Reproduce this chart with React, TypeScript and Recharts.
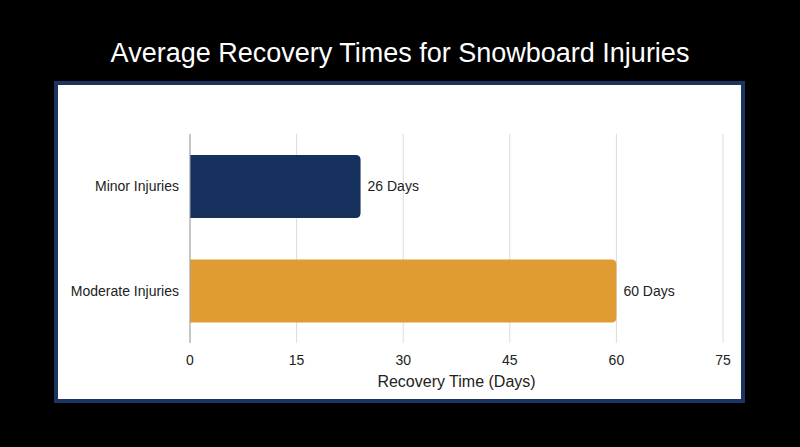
import React from "react";
import { BarChart, Bar, XAxis, YAxis, CartesianGrid, LabelList } from "recharts";

const categories = ["Minor Injuries", "Moderate Injuries"];
const recoveryDays = [24, 60];
const valueLabels = ["26 Days", "60 Days"];
const barColors = ["#15305c", "#e09b33"];
const xTicks = [0, 15, 30, 45, 60, 75];

const data = categories.map((name, i) => ({
  name,
  days: recoveryDays[i],
  label: valueLabels[i],
  color: barColors[i],
}));

const FONT = '"Liberation Sans", Arial, Helvetica, sans-serif';

export default function App() {
  return (
    <div
      style={{
        position: "absolute",
        left: 0,
        top: 0,
        width: 800,
        height: 447,
        background: "#000000",
        fontFamily: FONT,
        overflow: "hidden",
      }}
    >
      <div
        style={{
          position: "absolute",
          left: 0,
          top: 40,
          width: 800,
          textAlign: "center",
          color: "#ffffff",
          fontSize: 27,
          lineHeight: "27px",
          whiteSpace: "nowrap",
        }}
      >
        Average Recovery Times for Snowboard Injuries
      </div>
      <div
        style={{
          position: "absolute",
          left: 54,
          top: 81,
          width: 683,
          height: 314,
          border: "4px solid #1c3560",
          background: "#ffffff",
        }}
      >
        <BarChart
          width={683}
          height={314}
          data={data}
          layout="vertical"
          margin={{ top: 49, right: 18, left: 0, bottom: 0 }}
          barCategoryGap="20%"
        >
          <CartesianGrid horizontal={false} vertical={true} stroke="#dcdcdc" />
          <XAxis
            type="number"
            dataKey="days"
            domain={[0, 75]}
            ticks={xTicks}
            axisLine={false}
            tickLine={false}
            tickMargin={6}
            height={56}
            tick={{ fill: "#222222", fontSize: 14, fontFamily: FONT }}
            label={{
              value: "Recovery Time (Days)",
              position: "insideBottom",
              offset: 12,
              fill: "#222222",
              fontSize: 16,
              fontFamily: FONT,
            }}
          />
          <YAxis
            type="category"
            dataKey="name"
            width={132}
            axisLine={{ stroke: "#a0a0a0" }}
            tickLine={false}
            tickMargin={5}
            tick={{ fill: "#222222", fontSize: 14, fontFamily: FONT }}
          />
          <Bar
            dataKey="days"
            isAnimationActive={false}
            shape={(props: any) => {
              const { x, y, width, height, payload } = props;
              const r = Math.min(5, width / 2, height / 2);
              const d = `M${x},${y} H${x + width - r} Q${x + width},${y} ${x + width},${y + r} V${y + height - r} Q${x + width},${y + height} ${x + width - r},${y + height} H${x} Z`;
              return <path d={d} fill={payload.color} />;
            }}
          >
            <LabelList
              dataKey="label"
              position="right"
              offset={7}
              fill="#222222"
              fontSize={14}
              fontFamily={FONT}
            />
          </Bar>
        </BarChart>
      </div>
    </div>
  );
}
